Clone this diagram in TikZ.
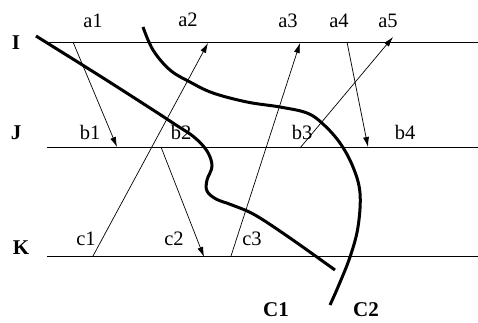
\documentclass[tikz,border=0pt]{standalone}
\usepackage{fontspec}
\setmainfont{Liberation Serif}
\usetikzlibrary{arrows.meta}

\begin{document}
\begin{tikzpicture}[x=1pt, y=-1pt, font=\fontsize{20.5}{20.5}\selectfont,
    lbl/.style={inner sep=0pt},
    row/.style={lbl, font=\fontsize{21}{21}\selectfont\bfseries},
    sig/.style={line width=0.7pt, -{Latex[length=10pt,width=6pt]}},
    cut/.style={line width=3pt}]
    \fill[white] (0,0) rectangle (478,322);
    \useasboundingbox (0,0) rectangle (478,322);
    % Lignes horizontales I, J, K
    \foreach \nm/\yy/\lx/\ly in {I/42/16/43, J/147/16/133, K/256/21/248} {
        \coordinate (s\nm) at (47,\yy);
        \coordinate (e\nm) at (478,\yy);
        \draw[line width=0.8pt] (s\nm) -- (e\nm);
        \node[row] (l\nm) at (\lx,\ly) {\nm};
    }
    % Etiquettes des evenements
    \foreach \nm/\xx/\yy in {a1/93/21, a2/188/20, a3/288/21, a4/339/21, a5/388/21,
                             b1/90/132, b2/181/132, b3/302/132, b4/405/132,
                             c1/86/239, c2/174/239, c3/252/239} {
        \node[lbl] (l\nm) at (\xx,\yy) {\nm};
    }
    % Points de depart et d'arrivee des messages
    \coordinate (pa1) at (73,42);   \coordinate (pb1) at (117,147);
    \coordinate (pc1) at (93,256);  \coordinate (pa2) at (208,43);
    \coordinate (pb2) at (161,147); \coordinate (pc2) at (204,257);
    \coordinate (pc3) at (231,256); \coordinate (pa3) at (300,43);
    \coordinate (pa4) at (347,42);  \coordinate (pb4) at (368,147);
    \coordinate (pb3) at (300,148); \coordinate (pa5) at (393,37);
    \draw[sig] (pa1) -- (pb1);
    \draw[sig] (pc1) -- (pa2);
    \draw[sig] (pb2) -- (pc2);
    \draw[sig] (pc3) -- (pa3);
    \draw[sig] (pa4) -- (pb4);
    \draw[sig] (pb3) -- (pa5);
    % Coupures C1 et C2
    \draw[cut] plot[smooth, tension=0.6] coordinates {(36,36) (100,76) (150,108)
        (176,125) (194,137) (207,151) (212,166) (207,180) (207,191) (216,199)
        (232,205) (255,215) (290,238) (335,270)};
    \draw[cut] plot[smooth, tension=0.6] coordinates {(143,27) (153,50) (170,70)
        (190,82) (213,93) (247,102) (280,107) (307,113) (323,124) (340,143)
        (353,167) (360,193) (358,227) (350,257) (338,287) (330,305)};
    \node[row] (lC1) at (276,310) {C1};
    \node[row] (lC2) at (366,310) {C2};
\end{tikzpicture}
\end{document}
